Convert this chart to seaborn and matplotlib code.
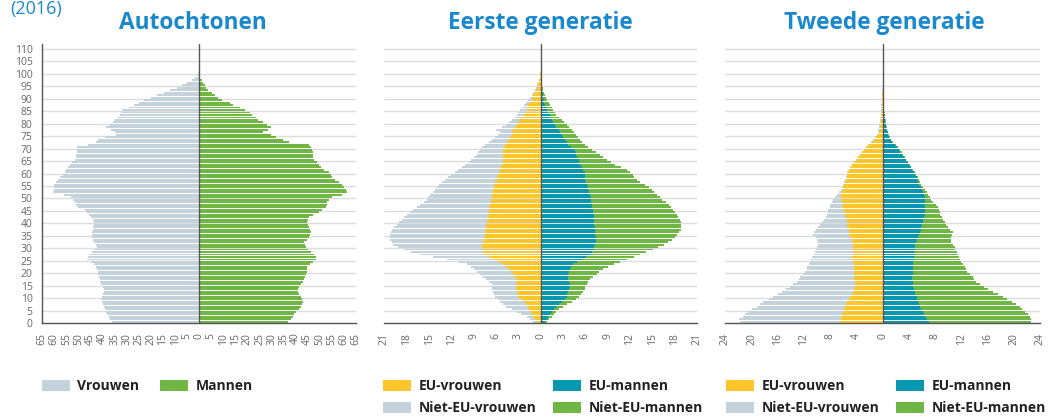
import matplotlib
matplotlib.use("Agg")
import matplotlib.pyplot as plt
import seaborn as sns
from matplotlib.patches import Patch

# ---------------- data (age 0..100) ----------------
ages = list(range(101))

auto_vrouwen = [
    36.0, 36.8, 37.5, 38.0, 38.6, 39.0, 39.6, 40.0, 40.4, 40.5,
    40.4, 40.0, 39.3, 39.5, 40.0, 40.7, 41.0, 41.2, 41.5, 41.8,
    42.0, 42.3, 42.8, 43.5, 45.0, 46.4, 46.0, 45.5, 44.5, 43.5,
    42.3, 42.8, 43.4, 44.0, 44.3, 44.5, 44.2, 44.0, 43.8, 43.7,
    43.7, 44.0, 44.8, 45.5, 46.5, 47.5, 50.0, 51.0, 51.6, 52.3,
    53.0, 56.0, 60.5, 60.0, 60.3, 60.0, 59.5, 58.5, 57.5, 56.5,
    55.8, 55.0, 54.4, 53.5, 52.5, 51.6, 51.2, 51.0, 50.8, 50.6,
    50.5, 46.0, 42.7, 42.0, 39.0, 34.5, 35.0, 36.5, 38.6, 37.0,
    35.9, 35.0, 33.8, 33.0, 32.5, 32.0, 29.0, 27.0, 25.0, 23.0,
    20.0, 17.4, 14.6, 12.0, 9.0, 7.0, 5.0, 3.0, 1.6, 0.8, 0.4]
auto_mannen = [
    36.7, 38.0, 38.8, 39.5, 40.1, 41.5, 42.2, 42.5, 42.9, 42.5,
    42.2, 41.5, 40.8, 40.8, 41.5, 42.2, 42.9, 43.5, 44.0, 44.3,
    44.5, 44.7, 44.9, 46.0, 47.0, 48.6, 48.4, 47.5, 46.3, 45.0,
    44.2, 43.8, 43.6, 44.5, 45.6, 46.0, 46.3, 46.0, 45.6, 45.2,
    44.9, 45.2, 45.6, 47.0, 49.7, 51.0, 52.5, 52.8, 53.0, 54.0,
    55.2, 59.3, 61.4, 60.7, 60.0, 59.3, 58.0, 56.5, 55.2, 54.5,
    53.8, 51.8, 50.7, 49.7, 48.7, 47.7, 47.0, 47.0, 47.0, 46.6,
    46.3, 45.6, 37.4, 34.7, 32.0, 29.9, 26.4, 28.5, 29.9, 28.0,
    26.4, 24.4, 23.7, 22.0, 21.0, 19.0, 17.0, 14.0, 12.7, 9.3,
    8.0, 6.6, 5.2, 3.8, 3.0, 2.5, 1.8, 1.0, 0.4, 0.2, 0.1]

# Eerste generatie: totals (EU + niet-EU) and EU part
eerste_totaal_vrouwen = [
    1.0, 1.4, 1.9, 2.6, 3.2, 3.9, 4.6, 5.1, 5.5, 5.8,
    6.1, 6.3, 6.4, 6.5, 6.5, 6.6, 7.0, 7.3, 7.8, 8.2,
    8.6, 9.0, 9.4, 9.9, 11.0, 12.6, 14.5, 16.2, 17.4, 18.4,
    19.2, 19.8, 20.0, 20.2, 20.3, 20.2, 20.1, 20.0, 19.7, 19.3,
    19.0, 18.7, 18.3, 18.0, 17.5, 17.1, 16.6, 16.2, 15.7, 15.3,
    15.1, 14.9, 14.5, 14.2, 13.9, 13.7, 13.3, 12.9, 12.4, 12.0,
    11.5, 11.1, 10.6, 10.2, 9.7, 9.3, 8.9, 8.6, 8.4, 8.2,
    7.9, 7.5, 7.0, 6.6, 6.1, 5.7, 5.5, 6.0, 5.2, 4.6,
    4.2, 3.9, 3.5, 3.2, 3.0, 2.8, 2.5, 2.3, 2.0, 1.7,
    1.4, 1.2, 1.0, 0.8, 0.6, 0.45, 0.3, 0.2, 0.15, 0.1, 0.05]
eerste_eu_vrouwen = [
    0.5, 0.8, 1.0, 1.2, 1.4, 1.6, 1.7, 2.0, 2.3, 2.7,
    3.0, 3.1, 3.2, 3.3, 3.3, 3.3, 3.2, 3.2, 3.4, 3.7,
    4.0, 4.3, 4.6, 5.0, 5.7, 6.4, 7.0, 7.5, 7.7, 7.9,
    7.9, 7.9, 7.8, 7.7, 7.6, 7.5, 7.5, 7.5, 7.4, 7.3,
    7.2, 7.2, 7.1, 7.0, 7.0, 7.0, 6.9, 6.8, 6.7, 6.7,
    6.6, 6.6, 6.5, 6.4, 6.3, 6.3, 6.1, 5.9, 5.8, 5.7,
    5.6, 5.5, 5.3, 5.2, 5.1, 5.1, 5.0, 5.0, 5.0, 5.0,
    4.9, 4.8, 4.5, 4.3, 4.1, 3.9, 3.8, 3.7, 3.4, 3.2,
    3.0, 2.8, 2.5, 2.3, 2.1, 1.9, 1.8, 1.7, 1.4, 1.2,
    1.1, 1.0, 0.8, 0.6, 0.5, 0.4, 0.3, 0.2, 0.1, 0.08, 0.04]
eerste_totaal_mannen = [
    0.8, 1.1, 1.5, 1.8, 2.1, 2.5, 3.0, 3.6, 4.2, 4.7,
    5.1, 5.4, 5.7, 5.9, 6.0, 6.2, 6.4, 6.6, 7.0, 7.5,
    7.9, 8.4, 9.1, 9.8, 10.7, 11.6, 12.5, 13.3, 14.2, 15.1,
    15.8, 16.5, 17.1, 17.6, 18.0, 18.3, 18.6, 18.9, 18.9, 18.9,
    18.8, 18.7, 18.5, 18.3, 18.0, 17.8, 17.5, 17.2, 16.8, 16.3,
    16.0, 15.6, 15.2, 14.9, 14.5, 14.0, 13.4, 12.9, 12.6, 12.4,
    12.0, 11.6, 10.8, 10.0, 9.4, 8.9, 8.4, 8.0, 7.4, 6.9,
    6.4, 6.0, 5.6, 5.3, 5.0, 4.8, 4.5, 4.2, 3.8, 3.5,
    3.1, 2.8, 2.4, 2.1, 1.9, 1.7, 1.5, 1.25, 1.1, 0.9,
    0.75, 0.6, 0.45, 0.35, 0.25, 0.2, 0.15, 0.1, 0.07, 0.05, 0.03]
eerste_eu_mannen = [
    0.6, 0.8, 1.0, 1.2, 1.5, 1.8, 2.1, 2.5, 2.8, 3.2,
    3.5, 3.6, 3.7, 3.8, 3.9, 3.9, 3.8, 3.7, 3.7, 3.7,
    3.8, 3.9, 4.1, 4.4, 4.9, 5.5, 6.1, 6.6, 6.9, 7.1,
    7.2, 7.3, 7.4, 7.4, 7.4, 7.3, 7.3, 7.3, 7.3, 7.2,
    7.2, 7.2, 7.1, 7.1, 7.0, 7.0, 6.9, 6.9, 6.8, 6.7,
    6.7, 6.6, 6.5, 6.4, 6.3, 6.2, 6.1, 6.0, 6.0, 6.0,
    5.9, 5.7, 5.5, 5.3, 5.2, 5.1, 4.9, 4.8, 4.7, 4.5,
    4.1, 3.7, 3.5, 3.3, 3.0, 2.8, 2.6, 2.4, 2.1, 1.9,
    1.7, 1.5, 1.3, 1.2, 1.0, 0.8, 0.7, 0.6, 0.5, 0.4,
    0.35, 0.3, 0.25, 0.2, 0.15, 0.1, 0.08, 0.06, 0.04, 0.03, 0.02]

# Tweede generatie
tweede_totaal_vrouwen = [
    21.8, 21.9, 21.3, 21.0, 20.5, 20.0, 19.2, 18.7, 18.2, 17.4,
    16.7, 16.0, 15.4, 14.7, 14.1, 13.6, 13.1, 12.8, 12.6, 12.2,
    11.8, 11.6, 11.5, 11.3, 11.1, 10.9, 10.8, 10.5, 10.3, 10.1,
    10.0, 9.9, 9.8, 10.0, 10.1, 10.6, 10.4, 10.1, 9.8, 9.6,
    9.3, 9.0, 8.7, 8.5, 8.4, 8.3, 8.1, 8.0, 7.7, 7.5,
    7.2, 7.0, 6.6, 6.3, 6.2, 6.0, 5.9, 5.7, 5.6, 5.5,
    5.4, 5.2, 5.0, 4.7, 4.4, 4.0, 3.8, 3.5, 3.2, 2.9,
    2.6, 2.2, 1.8, 1.4, 1.1, 0.9, 0.75, 0.66, 0.55, 0.5,
    0.45, 0.4, 0.35, 0.3, 0.28, 0.25, 0.2, 0.18, 0.15, 0.12,
    0.1, 0.07, 0.05, 0.03, 0.02, 0.02, 0.01, 0.01, 0.01, 0.0, 0.0]
tweede_eu_vrouwen = [
    6.5, 6.4, 6.3, 6.2, 6.0, 5.9, 5.7, 5.6, 5.5, 5.2,
    5.0, 4.7, 4.5, 4.3, 4.2, 4.2, 4.2, 4.3, 4.4, 4.3,
    4.3, 4.3, 4.4, 4.4, 4.5, 4.5, 4.6, 4.5, 4.5, 4.5,
    4.5, 4.5, 4.6, 4.7, 4.9, 5.1, 5.1, 5.2, 5.3, 5.4,
    5.4, 5.5, 5.6, 5.7, 5.8, 6.0, 6.0, 6.1, 6.2, 6.3,
    6.3, 6.3, 6.2, 6.1, 6.0, 5.9, 5.8, 5.6, 5.5, 5.4,
    5.3, 5.1, 4.9, 4.6, 4.3, 3.9, 3.7, 3.4, 3.1, 2.8,
    2.5, 2.1, 1.7, 1.3, 1.0, 0.75, 0.6, 0.45, 0.38, 0.32,
    0.28, 0.25, 0.22, 0.2, 0.18, 0.15, 0.13, 0.11, 0.1, 0.08,
    0.06, 0.05, 0.03, 0.02, 0.01, 0.01, 0.01, 0.0, 0.0, 0.0, 0.0]
tweede_totaal_mannen = [
    22.7, 22.7, 22.5, 22.1, 21.7, 21.3, 20.9, 20.3, 19.7, 19.0,
    18.4, 17.6, 16.9, 16.1, 15.4, 14.8, 14.3, 14.0, 13.8, 13.3,
    12.8, 12.7, 12.6, 12.3, 12.0, 11.8, 11.7, 11.5, 11.3, 11.1,
    11.0, 10.7, 10.5, 10.4, 10.4, 10.6, 10.7, 10.3, 10.0, 9.7,
    9.5, 9.2, 9.0, 8.8, 8.7, 8.6, 8.5, 8.1, 7.7, 7.4,
    7.2, 6.9, 6.7, 6.4, 6.2, 5.9, 5.7, 5.5, 5.4, 5.1,
    4.9, 4.6, 4.4, 4.1, 3.9, 3.6, 3.4, 3.1, 2.9, 2.6,
    2.4, 2.0, 1.6, 1.3, 1.1, 0.95, 0.86, 0.7, 0.6, 0.55,
    0.5, 0.45, 0.4, 0.35, 0.3, 0.27, 0.24, 0.2, 0.15, 0.12,
    0.09, 0.05, 0.04, 0.03, 0.02, 0.02, 0.01, 0.01, 0.0, 0.0, 0.0]
tweede_eu_mannen = [
    7.0, 6.7, 6.5, 6.3, 6.2, 5.9, 5.7, 5.5, 5.4, 5.3,
    5.2, 5.0, 4.9, 4.8, 4.7, 4.6, 4.6, 4.5, 4.5, 4.6,
    4.7, 4.7, 4.7, 4.7, 4.7, 4.8, 4.8, 4.8, 4.8, 4.9,
    4.9, 5.0, 5.1, 5.2, 5.4, 5.5, 5.7, 5.8, 5.9, 6.0,
    6.2, 6.2, 6.3, 6.4, 6.5, 6.5, 6.5, 6.5, 6.5, 6.5,
    6.5, 6.3, 6.2, 6.0, 5.9, 5.6, 5.4, 5.3, 5.2, 5.0,
    4.8, 4.5, 4.3, 4.0, 3.8, 3.5, 3.3, 3.0, 2.7, 2.5,
    2.2, 1.9, 1.5, 1.2, 1.0, 0.85, 0.75, 0.6, 0.5, 0.45,
    0.4, 0.37, 0.33, 0.3, 0.26, 0.23, 0.2, 0.17, 0.13, 0.1,
    0.08, 0.04, 0.03, 0.02, 0.01, 0.01, 0.01, 0.0, 0.0, 0.0, 0.0]

titles = ["Autochtonen", "Eerste generatie", "Tweede generatie"]
subtitle = "(2016)"

# ---------------- style ----------------
GREY = "#c4d2db"
GREEN = "#6fb644"
YELLOW = "#fec62a"
TEAL = "#0797b0"
BLUE = "#1a88cc"
AXC = "#555555"

sns.set_style("white")
plt.rcParams["font.family"] = ["Open Sans", "DejaVu Sans"]

W, H = 1054, 419
fig = plt.figure(figsize=(W / 100, H / 100), dpi=100)

ypos = [a + 0.5 for a in ages]


def draw(ax, values, color, sign):
    sns.barplot(x=[sign * v for v in values], y=ypos, orient="h",
                native_scale=True, color=color, saturation=1, width=0.78,
                errorbar=None, linewidth=0, ax=ax)


def setup(ax, lim, step, show_y):
    ax.set_xlim(-lim, lim)
    ax.set_ylim(0, 112)
    ax.set_xlabel("")
    ax.set_ylabel("")
    ticks = list(range(-lim, lim + 1, step))
    ax.set_xticks(ticks)
    ax.set_xticklabels([str(abs(t)) for t in ticks], rotation=90)
    ax.tick_params(axis="x", direction="in", length=7, width=1, color=AXC,
                   pad=7, labelsize=7.5, labelcolor="#666666")
    ax.set_yticks(list(range(0, 111, 5)))
    ax.yaxis.grid(True, color="#dddddd", lw=1)
    ax.xaxis.grid(False)
    ax.set_axisbelow(True)
    for s in ("top", "right"):
        ax.spines[s].set_visible(False)
    ax.spines["bottom"].set_color(AXC)
    ax.spines["bottom"].set_linewidth(1)
    ax.spines["bottom"].set_zorder(6)
    if show_y:
        ax.spines["left"].set_color(AXC)
        ax.spines["left"].set_linewidth(1)
        ax.tick_params(axis="y", direction="out", length=5, width=1,
                       color=AXC, pad=2, labelsize=7.5, labelcolor="#666666")
    else:
        ax.spines["left"].set_visible(False)
        ax.tick_params(axis="y", length=0, labelleft=False)
    ax.axvline(0, color=AXC, lw=1, zorder=5)
    ax.set_facecolor("none")


bottom = (H - 323) / H
height = 279 / H

ax1 = fig.add_axes([42.3 / W, bottom, 313.7 / W, height])
draw(ax1, auto_vrouwen, GREY, -1)
draw(ax1, auto_mannen, GREEN, 1)
setup(ax1, 65, 5, True)

ax2 = fig.add_axes([384.4 / W, bottom, 312.6 / W, height])
draw(ax2, eerste_totaal_vrouwen, GREY, -1)
draw(ax2, eerste_eu_vrouwen, YELLOW, -1)
draw(ax2, eerste_totaal_mannen, GREEN, 1)
draw(ax2, eerste_eu_mannen, TEAL, 1)
setup(ax2, 21, 3, False)

ax3 = fig.add_axes([725.3 / W, bottom, 314.7 / W, height])
draw(ax3, tweede_totaal_vrouwen, GREY, -1)
draw(ax3, tweede_eu_vrouwen, YELLOW, -1)
draw(ax3, tweede_totaal_mannen, GREEN, 1)
draw(ax3, tweede_eu_mannen, TEAL, 1)
setup(ax3, 24, 4, False)

# titles
for xc, t in zip([193, 540, 884], titles):
    fig.text(xc / W, 1 - 23 / H, t, ha="center", va="center", fontsize=16.3,
             fontweight="bold", color=BLUE)
fig.text(10 / W, 1 - 14 / H, subtitle, ha="left", va="baseline", fontsize=13,
         color=BLUE)


# legends
def entry(x_px, y_px, label, color):
    leg = fig.legend(handles=[Patch(facecolor=color, edgecolor="none", label=label)],
                     loc="center left", bbox_to_anchor=(x_px / W, 1 - y_px / H),
                     frameon=False, borderpad=0, borderaxespad=0,
                     handlelength=2.0, handleheight=0.85, handletextpad=0.55,
                     prop=dict(weight="bold", size=10), labelcolor="#222222")
    return leg


entry(42, 386, "Vrouwen", GREY)
entry(160, 386, "Mannen", GREEN)
for x0 in (383, 726):
    entry(x0, 386, "EU-vrouwen", YELLOW)
    entry(x0 + 170, 386, "EU-mannen", TEAL)
    entry(x0, 408, "Niet-EU-vrouwen", GREY)
    entry(x0 + 170, 408, "Niet-EU-mannen", GREEN)

fig.savefig("out.png", dpi=100)
